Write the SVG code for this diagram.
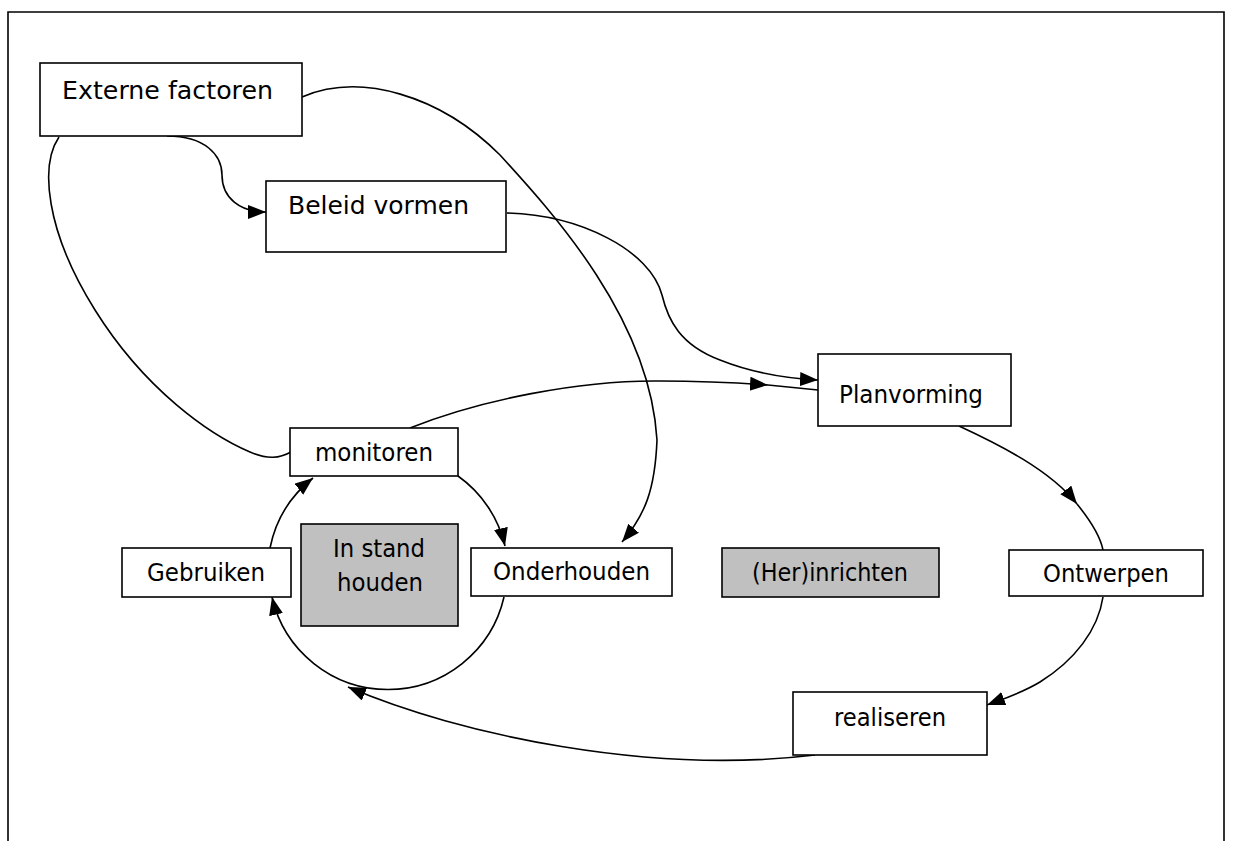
<svg xmlns="http://www.w3.org/2000/svg" width="1234" height="841" viewBox="0 0 1234 841">
<style>
.box{fill:#fff;stroke:#000;stroke-width:1.6}
.grey{fill:#c0c0c0;stroke:#000;stroke-width:1.6}
.lbl{font-family:"DejaVu Sans","Liberation Sans",sans-serif;font-size:24.5px;fill:#000}
.c{fill:none;stroke:#000;stroke-width:1.6}
.frame{fill:none;stroke:#000;stroke-width:1.6}
</style>
<defs>
<marker id="ah" markerUnits="userSpaceOnUse" markerWidth="20" markerHeight="16" refX="18" refY="7" orient="auto">
<path d="M0,0 L18,7 L0,14 z" fill="#000"/>
</marker>
</defs>
<rect width="1234" height="841" fill="#fff"/>
<path class="frame" d="M8,841 L8,12 L1224,12 L1224,841"/>
<g id="connectors">
<path class="c" d="M167,136 C205,136 222,155 222,175 C222,198 240,212 266,212" marker-end="url(#ah)"/>
<path class="c" d="M59,137 C40,165 45,230 95,310 C145,390 210,435 250,452 C268,460 280,458 291,452"/>
<path class="c" d="M302,97 C360,72 440,95 500,155 C555,215 650,320 657,440 C655,490 645,515 622,542" marker-end="url(#ah)"/>
<path class="c" d="M507,213 C580,215 650,250 662,295 C668,320 680,345 720,360 C750,372 780,378 818,380" marker-end="url(#ah)"/>
<path class="c" d="M410,428 C480,400 580,380 660,381 C700,381 740,383 768,385" marker-end="url(#ah)"/>
<path class="c" d="M768,385 L818,390"/>
<path class="c" d="M959,426 C1000,445 1050,470 1077,504" marker-end="url(#ah)"/>
<path class="c" d="M1077,504 C1090,520 1100,535 1103,550"/>
<path class="c" d="M1103,597 C1098,630 1075,660 1040,682 C1020,694 1000,700 987,705" marker-end="url(#ah)"/>
<path class="c" d="M815,755 C650,775 460,735 348,687" marker-end="url(#ah)"/>
<path class="c" d="M270,548 A119,119 0 0 1 313,478" marker-end="url(#ah)"/>
<path class="c" d="M458,476 A119,119 0 0 1 505,546" marker-end="url(#ah)"/>
<path class="c" d="M504,597 A119,119 0 0 1 272,597" marker-end="url(#ah)"/>
</g>
<g id="externe-factoren"><rect class="box" x="40" y="63" width="262" height="73"/><text class="lbl" x="62" y="99" textLength="211" lengthAdjust="spacingAndGlyphs">Externe factoren</text></g>
<g id="beleid-vormen"><rect class="box" x="266" y="181" width="240" height="71"/><text class="lbl" x="288" y="214" textLength="181" lengthAdjust="spacingAndGlyphs">Beleid vormen</text></g>
<g id="planvorming"><rect class="box" x="818" y="354" width="193" height="72"/><text class="lbl" x="839" y="403" textLength="144" lengthAdjust="spacingAndGlyphs">Planvorming</text></g>
<g id="monitoren"><rect class="box" x="290" y="428" width="168" height="48"/><text class="lbl" x="315" y="461" textLength="118" lengthAdjust="spacingAndGlyphs">monitoren</text></g>
<g id="in-stand-houden"><rect class="grey" x="301" y="524" width="157" height="102"/><text class="lbl" x="333" y="557" textLength="92" lengthAdjust="spacingAndGlyphs">In stand</text><text class="lbl" x="337" y="591" textLength="86" lengthAdjust="spacingAndGlyphs">houden</text></g>
<g id="gebruiken"><rect class="box" x="122" y="548" width="169" height="49"/><text class="lbl" x="147" y="581" textLength="118" lengthAdjust="spacingAndGlyphs">Gebruiken</text></g>
<g id="onderhouden"><rect class="box" x="471" y="548" width="201" height="48"/><text class="lbl" x="493" y="580" textLength="157" lengthAdjust="spacingAndGlyphs">Onderhouden</text></g>
<g id="herinrichten"><rect class="grey" x="722" y="548" width="217" height="49"/><text class="lbl" x="752" y="581" textLength="156" lengthAdjust="spacingAndGlyphs">(Her)inrichten</text></g>
<g id="ontwerpen"><rect class="box" x="1009" y="550" width="194" height="46"/><text class="lbl" x="1043" y="582" textLength="126" lengthAdjust="spacingAndGlyphs">Ontwerpen</text></g>
<g id="realiseren"><rect class="box" x="793" y="692" width="194" height="63"/><text class="lbl" x="834" y="726" textLength="112" lengthAdjust="spacingAndGlyphs">realiseren</text></g>
</svg>
